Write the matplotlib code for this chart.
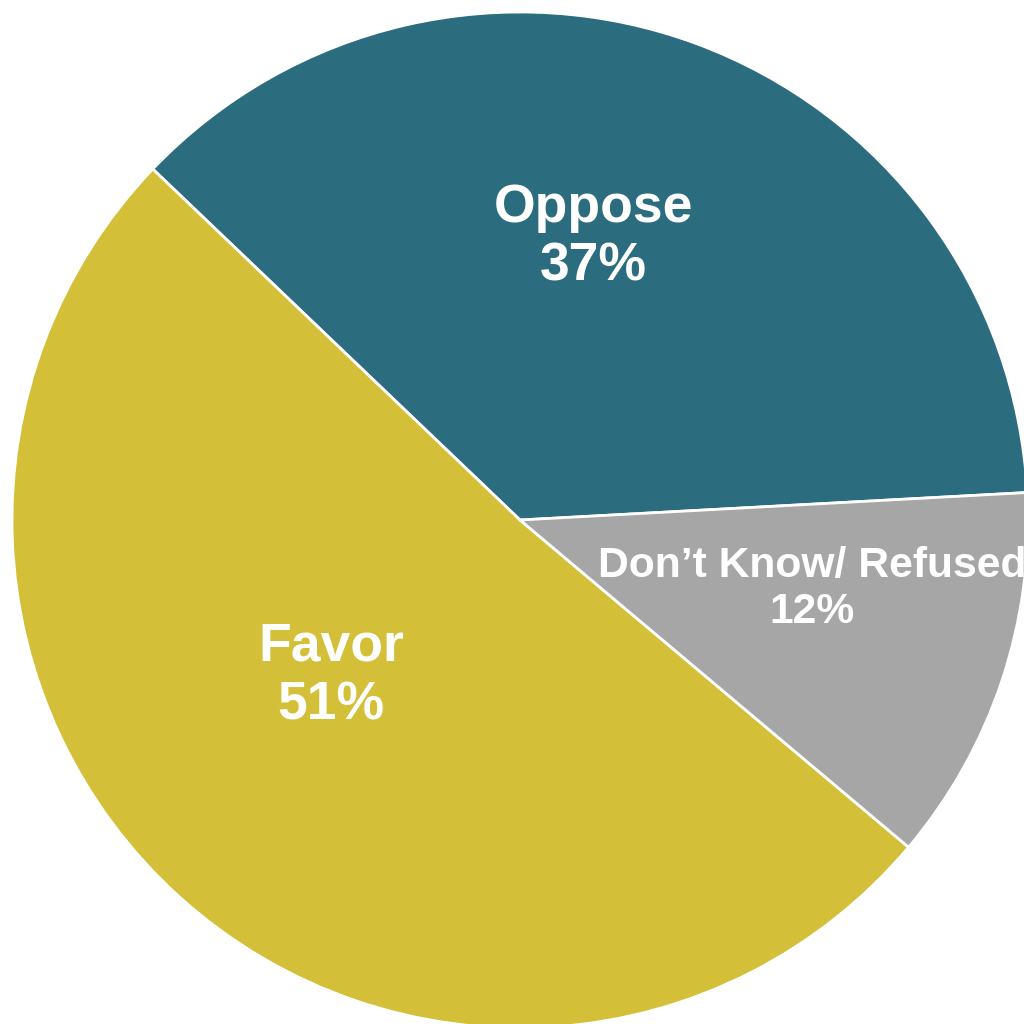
import matplotlib.pyplot as plt

plt.rcParams['font.family'] = ['Liberation Sans', 'DejaVu Sans']

labels = ['Oppose', 'Favor', 'Don\u2019t Know/ Refused']
values = [37, 51, 12]
colors = ['#2B6C7E', '#D4BF38', '#A6A6A6']

fig = plt.figure(figsize=(10.24, 10.24), dpi=100)
ax = fig.add_axes([0, 0, 1, 1])

wedges, _ = ax.pie(values, colors=colors, startangle=3.1, counterclock=True,
                   wedgeprops=dict(edgecolor='white', linewidth=2))

# label positions in pie units (radius 1)
r = 508.0
pos = {
    'Oppose': ((593 - 520) / r, (520 - 237) / r, 38.5),
    'Favor': ((331 - 520) / r, (520 - 676) / r, 38.5),
    'Don\u2019t Know/ Refused': ((812 - 520) / r, (520 - 589) / r, 30.7),
}
for lab, v in zip(labels, values):
    x, y, fs = pos[lab]
    ax.text(x, y, f'{lab}\n{v}%', ha='center', va='center', color='white',
            fontsize=fs, fontweight='bold', linespacing=1.22)

ax.set_xlim(-520 / r, 504 / r)
ax.set_ylim(-504 / r, 520 / r)
ax.set_aspect('equal')
ax.axis('off')

fig.savefig('out.png', dpi=100)
